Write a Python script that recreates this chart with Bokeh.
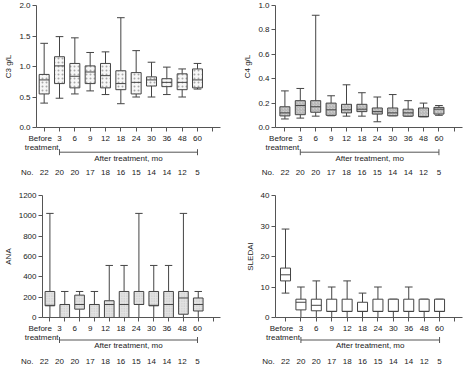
from bokeh.plotting import figure
from bokeh.layouts import column, row
from bokeh.models import FixedTicker, Range1d, ColumnDataSource, NumeralTickFormatter
from bokeh.core.properties import value
from bokeh.embed import file_html
from bokeh.resources import INLINE

# ---------------- data ----------------
tick_labels = ["Before", "3", "6", "9", "12", "18", "24", "30", "36", "48", "60"]
n_patients = [22, 20, 20, 17, 18, 16, 15, 14, 14, 12, 5]

c3_hi = [1.38, 1.49, 1.47, 1.23, 1.24, 1.80, 1.26, 1.07, 0.99, 0.96, 1.05]
c3_q3 = [0.87, 1.16, 1.05, 1.01, 1.05, 0.93, 0.90, 0.83, 0.80, 0.88, 0.96]
c3_med = [0.78, 1.01, 0.84, 0.91, 0.85, 0.72, 0.74, 0.78, 0.74, 0.74, 0.78]
c3_q1 = [0.55, 0.72, 0.65, 0.72, 0.65, 0.62, 0.55, 0.68, 0.67, 0.62, 0.65]
c3_lo = [0.40, 0.48, 0.55, 0.60, 0.54, 0.39, 0.50, 0.50, 0.54, 0.50, 0.63]

c4_hi = [0.30, 0.32, 0.92, 0.26, 0.35, 0.285, 0.25, 0.27, 0.22, 0.20, 0.18]
c4_q3 = [0.17, 0.22, 0.22, 0.20, 0.19, 0.19, 0.16, 0.16, 0.15, 0.16, 0.165]
c4_med = [0.12, 0.18, 0.17, 0.145, 0.145, 0.15, 0.13, 0.12, 0.12, 0.09, 0.15]
c4_q1 = [0.095, 0.105, 0.125, 0.10, 0.12, 0.13, 0.11, 0.096, 0.093, 0.088, 0.11]
c4_lo = [0.07, 0.077, 0.093, 0.096, 0.093, 0.093, 0.047, 0.096, 0.093, 0.088, 0.10]

ana_hi = [1024, 256, 256, 256, 512, 512, 1024, 512, 512, 1024, 256]
ana_q3 = [256, 128, 220, 128, 165, 256, 256, 256, 256, 256, 192]
ana_med = [120, 128, 128, 128, 128, 128, 128, 120, 128, 192, 128]
ana_q1 = [115, 0, 82, 0, 0, 0, 128, 115, 0, 32, 64]
ana_lo = [0, 0, 0, 0, 0, 0, 0, 0, 0, 0, 0]

sl_hi = [29, 10, 12, 10, 12, 8, 10, 6, 10, 6, 6]
sl_q3 = [16.2, 6, 6, 6, 6, 5, 6, 6, 6, 6, 6]
sl_med = [14, 5, 4, 2, 2, 2, 2, 2, 2, 2, 2]
sl_q1 = [12, 2.5, 2.2, 2, 2, 2, 2, 2, 2, 2, 2]
sl_lo = [8, 0, 0, 0, 0, 0, 0, 0, 0, 0, 0]

# ---------------- style ----------------
FONT = "Liberation Sans"
TXT = "#222222"
LINE = "#444444"
AX = "#555555"
FS = "8px"
BOX_W = 0.65
CAP_W = 0.5


def style_axis(ax):
    ax.major_label_text_font = FONT
    ax.major_label_text_font_size = FS
    ax.major_label_text_color = TXT
    ax.axis_label_text_font = FONT
    ax.axis_label_text_font_size = FS
    ax.axis_label_text_font_style = "normal"
    ax.axis_label_text_color = TXT
    ax.axis_line_color = AX
    ax.major_tick_line_color = AX
    ax.minor_tick_line_color = AX
    ax.major_tick_in = 0
    ax.major_tick_out = 4
    ax.minor_tick_in = 0
    ax.minor_tick_out = 4


def make_panel(w, h_top, h_bot, borders, xr, y_end, y_ticks, y_fmt, y_label,
               lo, q1, med, q3, hi, box_style, below):
    L, R, T, B = borders
    xs = [i + 0.5 for i in range(len(tick_labels))]
    p = figure(width=w, height=h_top, x_range=Range1d(*xr), y_range=Range1d(0, y_end),
               output_backend="svg", toolbar_location=None,
               min_border_left=L, min_border_right=R,
               min_border_top=T, min_border_bottom=B)
    p.outline_line_color = None
    p.xgrid.visible = False
    p.ygrid.visible = False

    src = ColumnDataSource(dict(
        x=xs, lo=lo, q1=q1, med=med, q3=q3, hi=hi,
        x0=[x - BOX_W / 2 for x in xs], x1=[x + BOX_W / 2 for x in xs],
        c0=[x - CAP_W / 2 for x in xs], c1=[x + CAP_W / 2 for x in xs]))

    for a, b in (("q3", "hi"), ("q1", "lo")):
        p.segment(x0="x", y0=a, x1="x", y1=b, source=src, line_color=LINE, line_width=1)
        p.segment(x0="c0", y0=b, x1="c1", y1=b, source=src, line_color=LINE, line_width=1)
    p.vbar(x="x", width=BOX_W, bottom="q1", top="q3", source=src,
           line_color=LINE, line_width=1, **box_style)
    p.segment(x0="x0", y0="med", x1="x1", y1="med", source=src, line_color=LINE, line_width=1)

    ya = p.yaxis[0]
    style_axis(ya)
    ya.ticker = FixedTicker(ticks=y_ticks)
    ya.formatter = NumeralTickFormatter(format=y_fmt)
    ya.axis_label = y_label
    ya.axis_label_standoff = 3
    ya.major_label_standoff = 2

    # x axis: tick marks only (labels are drawn in the strip below)
    xa = p.xaxis[0]
    style_axis(xa)
    xa.ticker = FixedTicker(ticks=[], minor_ticks=xs + [len(xs) + 0.5])
    xa.major_label_standoff = 0

    # lower strip, same x mapping as the panel
    u = (w - L - R) / (xr[1] - xr[0])
    q = figure(width=w, height=h_bot, x_range=Range1d(xr[0] - L / u, xr[1] + R / u),
               y_range=Range1d(0, h_bot), x_axis_type=None, y_axis_type=None,
               output_backend="svg", toolbar_location=None, min_border=0)
    if "frame_align" in q.properties():
        q.frame_align = False
    q.outline_line_color = None
    q.grid.visible = False
    d_lab, d_treat, d_br, d_after, d_n = below
    tk = dict(text_align="center", text_baseline="middle", text_font=value(FONT),
              text_font_size=FS, text_color=TXT)
    # category labels
    q.text(x=xs[1:], y=[h_bot - d_lab] * (len(xs) - 1), text=tick_labels[1:], **tk)
    q.text(x=[xs[0]], y=[h_bot - d_lab], text=[tick_labels[0]], x_offset=-4, **tk)
    q.text(x=[xs[0]], y=[h_bot - d_treat], text=["treatment"], x_offset=-2.5, **tk)
    # bracket
    yb = h_bot - d_br
    q.segment(x0=[xs[1]], y0=[yb], x1=[xs[-1]], y1=[yb], line_color=AX, line_width=1)
    q.segment(x0=[xs[1], xs[-1]], y0=[yb - 3, yb - 3], x1=[xs[1], xs[-1]], y1=[yb + 3, yb + 3],
              line_color=AX, line_width=1)
    q.text(x=[(xs[1] + xs[-1]) / 2], y=[h_bot - d_after], text=["After treatment, mo"], **tk)
    # patient counts
    yn = h_bot - d_n
    q.text(x=xs, y=[yn] * len(xs), text=[str(n) for n in n_patients], **tk)
    q.text(x=[xs[0] - 1.1], y=[yn], text=["No."], **tk)
    return column(p, q, spacing=0)


dots_light = dict(fill_color="#f7f7f7", hatch_pattern="dot", hatch_scale=4,
                  hatch_color="#a8a8a8", hatch_weight=1)
diag_gray = dict(fill_color="#d0d0d0", hatch_pattern="right_diagonal_line", hatch_scale=3,
                 hatch_color="#9a9a9a", hatch_weight=0.6)
dots_fine = dict(fill_color="#e3e3e3", hatch_pattern="dot", hatch_scale=2.5,
                 hatch_color="#c0c0c0", hatch_weight=1)
plain = dict(fill_color="white")

top_below = (5.3, 13.7, 18.7, 25.3, 39.3)
bot_below = (4.7, 13.5, 16.5, 22.0, 37.5)

p1 = make_panel(232, 133, 54, (36, 12, 5, 6), (0, 12), 2.0, [0, 0.5, 1.0, 1.5, 2.0], "0.0",
                "C3 g/L", c3_lo, c3_q1, c3_med, c3_q3, c3_hi, dots_light, top_below)
p2 = make_panel(231, 133, 54, (43, 1, 5, 6), (-0.11, 12.03), 1.0, [0, 0.2, 0.4, 0.6, 0.8, 1.0], "0.0",
                "C4 g/L", c4_lo, c4_q1, c4_med, c4_q3, c4_hi, diag_gray, top_below)
p3 = make_panel(232, 136, 42, (36, 12, 8, 6), (0, 12), 1200, [0, 200, 400, 600, 800, 1000, 1200], "0",
                "ANA", ana_lo, ana_q1, ana_med, ana_q3, ana_hi, dots_fine, bot_below)
p4 = make_panel(231, 136, 42, (43, 1, 8, 6), (-0.15, 11.99), 40, [0, 10, 20, 30, 40], "0",
                "SLEDAI", sl_lo, sl_q1, sl_med, sl_q3, sl_hi, plain, bot_below)

layout = column(row(p1, p2, spacing=0), row(p3, p4, spacing=0), spacing=0)
open("out.html", "w").write(file_html(layout, INLINE))
